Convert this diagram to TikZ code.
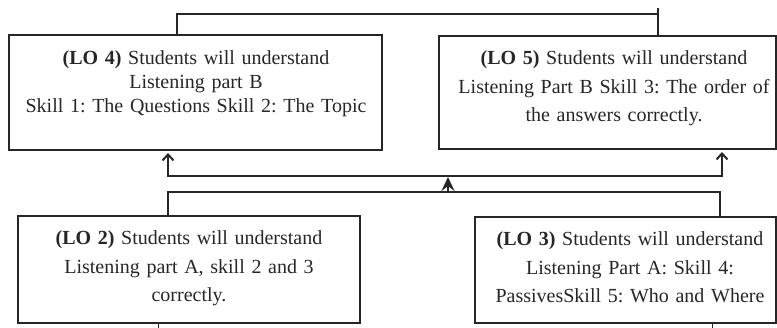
\documentclass[tikz,border=0pt]{standalone}
\usepackage{fontspec}
\setmainfont{Liberation Serif}
\usetikzlibrary{arrows.meta}
\frenchspacing
\begin{document}
\begin{tikzpicture}[x=1pt,y=-1pt,
  box/.style={draw=black!85, line width=2pt, rectangle, inner sep=0pt, outer sep=0pt},
  txt/.style={align=center, inner sep=0pt, text=black!85, anchor=base},
  conn/.style={draw=black!85, line width=2pt},
  upboth/.style={{Straight Barb[length=6pt,width=11pt]}-{Straight Barb[length=6pt,width=11pt]}, shorten <=3pt, shorten >=3pt},
  midar/.style={-{Stealth[length=14pt,width=13pt,inset=5pt]}, shorten >=1pt}
]
\useasboundingbox (0,0) rectangle (777,328);

% boxes
\node[box, minimum width=373pt, minimum height=115pt] (lo4) at (195.5,92.5) {};
\node[box, minimum width=337pt, minimum height=113pt] (lo5) at (607.5,92.5) {};
\node[box, minimum width=342pt, minimum height=107pt] (lo2) at (189,269.5) {};
\node[box, minimum width=301pt, minimum height=106pt] (lo3) at (625.5,270) {};

% texts
\node[txt, text width=365pt, font=\fontsize{20}{24}\selectfont] (lo4t) at (196,65)
  {\textbf{(LO 4)} Students will understand\\ Listening part B\\ Skill 1: The Questions Skill 2: The Topic};
\node[txt, text width=330pt, font=\fontsize{20}{28.5}\selectfont] (lo5t) at (614,65)
  {\textbf{(LO 5)} Students will understand\\ Listening Part B Skill 3: The order of\\ the answers correctly.};
\node[txt, text width=330pt, font=\fontsize{20}{28.5}\selectfont] (lo2t) at (189,245)
  {\textbf{(LO 2)} Students will understand\\ Listening part A, skill 2 and 3\\ correctly.};
\node[txt, text width=295pt, font=\fontsize{20}{28.5}\selectfont] (lo3t) at (630,246)
  {\textbf{(LO 3)} Students will understand\\ Listening Part A: Skill 4:\\ PassivesSkill 5: Who and Where};

% coordinates
\coordinate (t1) at (177,14);
\coordinate (t2) at (658,8);
\coordinate (u1) at (168,176);
\coordinate (u2) at (722,176);
\coordinate (l1) at (168,192);
\coordinate (l2) at (720,192);
\coordinate (m1) at (448,192);
\coordinate (s1) at (158,328);
\coordinate (s2) at (712,328);

% top connector
\draw[conn] (lo4.north -| t1) -- (t1) -- (t1 -| t2);
\draw[conn] (t2) -- (t2 |- lo5.north);

% upper line with arrows
\draw[conn, upboth] (lo4.south -| u1) -- (u1) -- (u2) -- (lo5.south -| u2);

% lower line
\draw[conn] (lo2.north -| l1) -- (l1) -- (l2) -- (lo3.north -| l2);

% middle arrow
\draw[conn, midar] (m1) -- (m1 |- u1);

% bottom stubs
\draw[conn, line width=1pt] (lo2.south -| s1) -- (s1);
\draw[conn, line width=1pt] (lo3.south -| s2) -- (s2);
\end{tikzpicture}
\end{document}
